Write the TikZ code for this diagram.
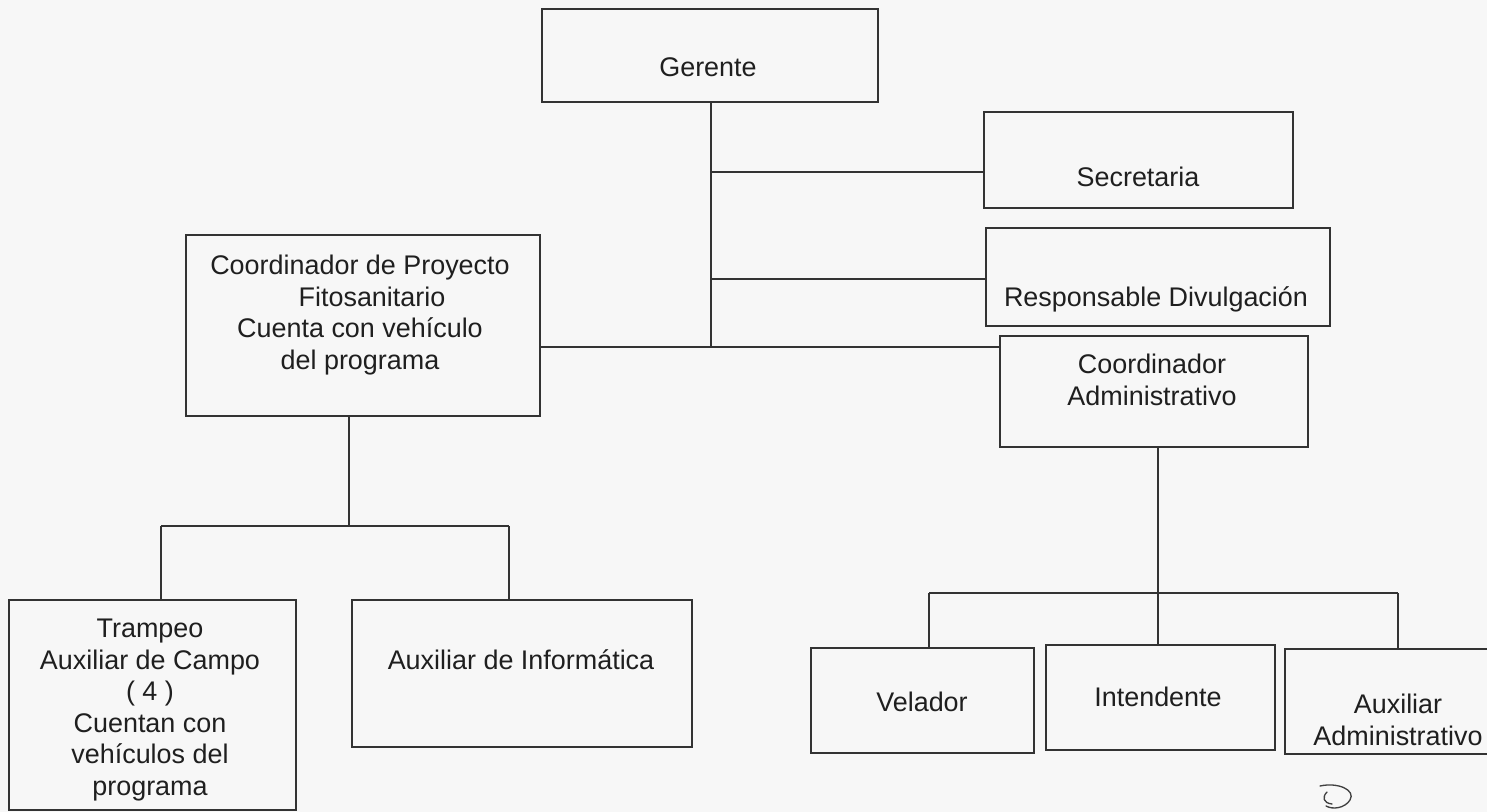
\documentclass[tikz,border=0pt]{standalone}
\usepackage{fontspec}
\setmainfont{Liberation Sans}
\usetikzlibrary{fit}
\begin{document}
\begin{tikzpicture}[x=0.75pt,y=-0.75pt,
  box/.style={draw=black!80, line width=1.4pt, inner sep=0pt},
  conn/.style={draw=black!80, line width=1.4pt},
  lbl/.style={font=\fontsize{20.2}{23.6}\selectfont, text=black!88, align=center, inner sep=0pt},
  scrib/.style={draw=black!75, line width=1pt, line cap=round, line join=round}]
\useasboundingbox (0,0) rectangle (1487,812);
\fill[black!3] (0,0) rectangle (1487,812);
% boxes
\node[box, fit={(542,9) (878,102)}] (g) {};
\node[box, fit={(984,112) (1293,208)}] (sec) {};
\node[box, fit={(986,228) (1330,326)}] (rd) {};
\node[box, fit={(186,235) (540,416)}] (cp) {};
\node[box, fit={(1000,336) (1308,447)}] (ca) {};
\node[box, fit={(9,600) (296,810)}] (tr) {};
\node[box, fit={(352,600) (692,747)}] (ai) {};
\node[box, fit={(811,648) (1034,753)}] (ve) {};
\node[box, fit={(1046,645) (1275,750)}] (in) {};
\node[box, fit={(1285,649) (1510,754)}] (aa) {};
% labels
\node[lbl, anchor=base] (tg) at (708,77) {Gerente};
\node[lbl, anchor=base] (tsec) at (1138,187) {Secretaria};
\node[lbl, anchor=base] (trd) at (1156,307) {Responsable Divulgación};
\node[lbl] (tcp) at (360,315) {Coordinador de Proyecto\\\hspace*{18pt}Fitosanitario\\Cuenta con vehículo\\del programa};
\node[lbl] (tca) at (1152,380) {Coordinador\\Administrativo};
\node[lbl] (ttr) at (150,710) {Trampeo\\Auxiliar de Campo\\( 4 )\\Cuentan con\\vehículos del\\programa};
\node[lbl, anchor=base] (tai) at (521,669) {Auxiliar de Informática};
\node[lbl, anchor=base] (tve) at (922,711) {Velador};
\node[lbl, anchor=base] (tin) at (1158,706) {Intendente};
\node[lbl] (taa) at (1398,720) {Auxiliar\\Administrativo};
% junctions
\coordinate (js) at (711,172);
\coordinate (jr) at (711,279);
\coordinate (jm) at (711,347);
\coordinate (jp) at (349,526);
\coordinate (jt) at (161,526);
\coordinate (ji) at (509,526);
\coordinate (ja) at (1158,593);
\coordinate (jv) at (929,593);
\coordinate (jx) at (1398,593);
% connectors
\draw[conn] (jm |- g.south) -- (jm);
\draw[conn] (js) -- (js -| sec.west);
\draw[conn] (jr) -- (jr -| rd.west);
\draw[conn] (jm -| cp.east) -- (jm -| ca.west);
\draw[conn] (jp |- cp.south) -- (jp);
\draw[conn] (jt) -- (ji);
\draw[conn] (jt) -- (jt |- tr.north);
\draw[conn] (ji) -- (ji |- ai.north);
\draw[conn] (ja |- ca.south) -- (ja |- in.north);
\draw[conn] (jv) -- (jx);
\draw[conn] (jv) -- (jv |- ve.north);
\draw[conn] (jx) -- (jx |- aa.north);
% handwritten mark
\draw[scrib] (1320,786) .. controls (1338,782) and (1356,790) .. (1350,800) .. controls (1345,808) and (1333,810) .. (1326,806);
\draw[scrib] (1327,792) .. controls (1322,797) and (1323,803) .. (1332,804);
\end{tikzpicture}
\end{document}
